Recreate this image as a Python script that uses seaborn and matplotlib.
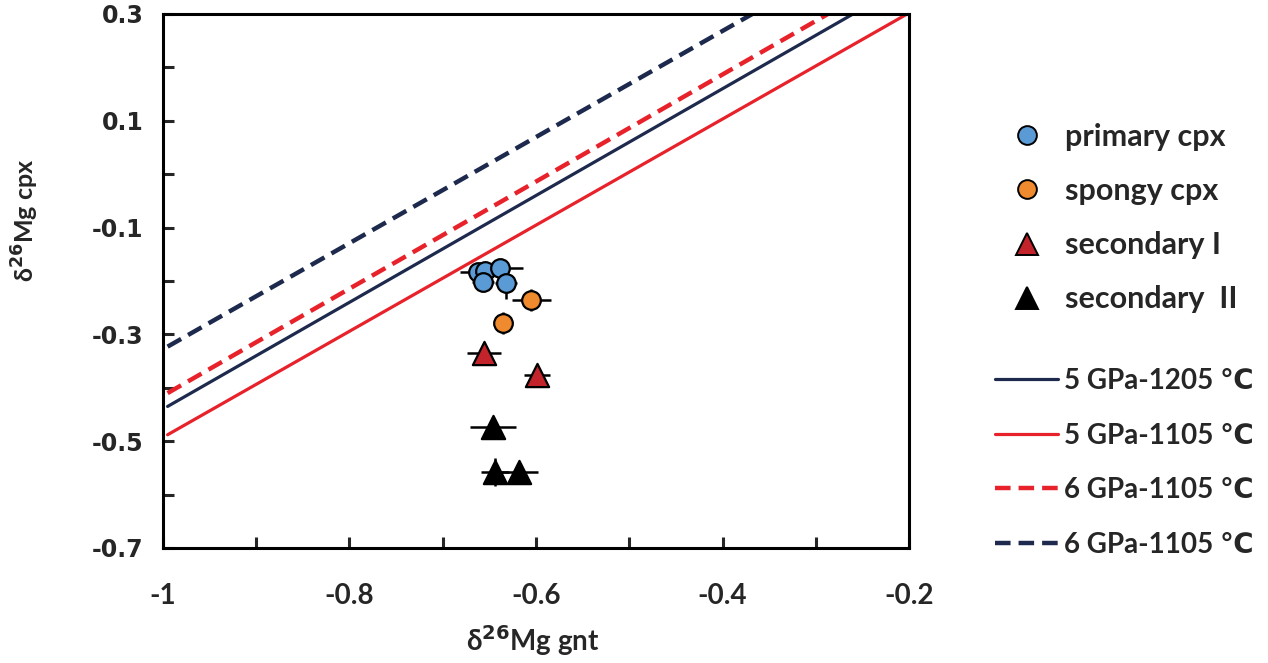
import numpy as np
import pandas as pd
import matplotlib
matplotlib.use("Agg")
import matplotlib.pyplot as plt
from matplotlib.lines import Line2D
import seaborn as sns

# Data
primary_x = [-0.662, -0.655, -0.639, -0.657, -0.632]
primary_y = [-0.183, -0.181, -0.176, -0.202, -0.204]
primary_xerr = [0.020, 0.010, 0.025, 0.012, 0.012]
primary_yerr = [0.008, 0.008, 0.008, 0.008, 0.030]

spongy_x = [-0.605, -0.635]
spongy_y = [-0.236, -0.279]
spongy_xerr = [0.021, 0.008]
spongy_yerr = [0.020, 0.020]

sec1_x = [-0.656, -0.599]
sec1_y = [-0.335, -0.376]
sec1_xerr = [0.018, 0.014]
sec1_yerr = [0.008, 0.008]

sec2_x = [-0.646, -0.644, -0.618]
sec2_y = [-0.473, -0.558, -0.558]
sec2_xerr = [0.025, 0.015, 0.020]
sec2_yerr = [0.012, 0.026, 0.010]

# equilibrium lines (end points)
l1_x, l1_y = [-0.995, -0.260], [-0.435, 0.300]   # 5 GPa-1205
l2_x, l2_y = [-0.995, -0.200], [-0.488, 0.302]   # 5 GPa-1105
l3_x, l3_y = [-0.995, -0.287], [-0.410, 0.300]   # 6 GPa-1105 (red dashed)
l4_x, l4_y = [-0.995, -0.368], [-0.323, 0.300]   # 6 GPa-1105 (navy dashed)

sns.set_style("white")
plt.rcParams['font.family'] = ['Lato', 'DejaVu Sans']
plt.rcParams['font.weight'] = 'bold'

fig = plt.figure(figsize=(12.68, 6.63), dpi=100)
ax = fig.add_axes([0.1285, 0.1735, 0.5885, 0.8055])

navy = "#1d2a4d"
red = "#e8222b"

sns.lineplot(x=l1_x, y=l1_y, ax=ax, color=navy, lw=2.3, zorder=2)
sns.lineplot(x=l2_x, y=l2_y, ax=ax, color=red, lw=2.3, zorder=2)
sns.lineplot(x=l3_x, y=l3_y, ax=ax, color=red, lw=3.2, zorder=2)
sns.lineplot(x=l4_x, y=l4_y, ax=ax, color=navy, lw=3.2, zorder=2)
ax.lines[2].set_dashes([3.5, 1.8])
ax.lines[3].set_dashes([3.5, 1.8])

groups = [
    (primary_x, primary_y, primary_xerr, primary_yerr, "#5b9bd5", "o", 180),
    (spongy_x, spongy_y, spongy_xerr, spongy_yerr, "#ef8a2e", "o", 180),
    (sec1_x, sec1_y, sec1_xerr, sec1_yerr, "#c3232b", "^", 280),
    (sec2_x, sec2_y, sec2_xerr, sec2_yerr, "black", "^", 280),
]
for gx, gy, ex, ey, col, mk, s in groups:
    ax.errorbar(gx, gy, xerr=ex, yerr=ey, fmt="none", ecolor="black",
                elinewidth=1.8, capsize=0, zorder=3)
    df = pd.DataFrame({"x": gx, "y": gy})
    sns.scatterplot(data=df, x="x", y="y", ax=ax, color=col, marker=mk, s=s,
                    edgecolor="black", linewidth=1.6, zorder=4)

ax.set_xlim(-1, -0.2)
ax.set_ylim(-0.7, 0.3)
ax.set_xticks([-1, -0.8, -0.6, -0.4, -0.2])
ax.set_xticklabels(["-1", "-0.8", "-0.6", "-0.4", "-0.2"])
ax.set_xticks(np.arange(-0.9, -0.2, 0.2), minor=True)
ax.set_yticks([0.3, 0.1, -0.1, -0.3, -0.5, -0.7])
ax.set_yticklabels(["0.3", "0.1", "-0.1", "-0.3", "-0.5", "-0.7"])
ax.set_yticks(np.arange(-0.6, 0.3, 0.2), minor=True)
ax.tick_params(axis="both", which="both", direction="in", length=8, width=2.2,
               bottom=True, left=True, top=False, right=False)
ax.tick_params(axis="x", which="major", pad=25, labelsize=20)
ax.tick_params(axis="y", which="major", pad=14, labelsize=17)
for lab in ax.get_xticklabels():
    lab.set_fontweight("bold")
for lab in ax.get_yticklabels():
    lab.set_fontweight("bold")
    lab.set_family("DejaVu Sans")
for sp in ax.spines.values():
    sp.set_linewidth(2.2)
    sp.set_color("black")

ax.set_xlabel("")
ax.set_ylabel("")
fig.text(0.42, 0.034, r"δ$^{\mathbf{26}}$Mg gnt", ha="center", va="center",
         fontsize=20, fontweight="bold")
fig.text(0.02, 0.668, r"δ$^{\mathbf{26}}$Mg cpx", ha="center", va="center",
         rotation=90, fontsize=18, fontweight="bold")

mk_font = {"family": ["Lato", "DejaVu Sans"], "weight": "bold", "size": 22}
ln_font = {"family": ["Lato", "DejaVu Sans"], "weight": "bold", "size": 20}

mk_handles = [
    Line2D([], [], ls="none", marker="o", ms=13.5, mfc="#5b9bd5", mec="black", mew=1.4),
    Line2D([], [], ls="none", marker="o", ms=13.5, mfc="#ef8a2e", mec="black", mew=1.4),
    Line2D([], [], ls="none", marker="^", ms=16, mfc="#c3232b", mec="black", mew=1.4),
    Line2D([], [], ls="none", marker="^", ms=16, mfc="black", mec="black", mew=1.4),
]
mk_labels = ["primary cpx", "spongy cpx", "secondary I", "secondary  II"]
leg1 = fig.legend(mk_handles, mk_labels, loc="upper left",
                  bbox_to_anchor=(0.798, 0.815), frameon=False,
                  borderpad=0, borderaxespad=0,
                  handlelength=1.0, handletextpad=0.74, labelspacing=0.86,
                  prop=mk_font)

ln_handles = [
    Line2D([], [], color=navy, lw=2.3),
    Line2D([], [], color=red, lw=2.3),
    Line2D([], [], color=red, lw=3.2, dashes=[3.5, 1.8]),
    Line2D([], [], color=navy, lw=3.2, dashes=[3.5, 1.8]),
]
ln_labels = ["5 GPa-1205 ℃", "5 GPa-1105 ℃", "6 GPa-1105 ℃", "6 GPa-1105 ℃"]
leg2 = fig.legend(ln_handles, ln_labels, loc="upper left",
                  bbox_to_anchor=(0.7847, 0.445), frameon=False,
                  borderpad=0, borderaxespad=0,
                  handlelength=2.27, handletextpad=0.22, labelspacing=1.03,
                  prop=ln_font)

fig.savefig("out.png", dpi=100)
